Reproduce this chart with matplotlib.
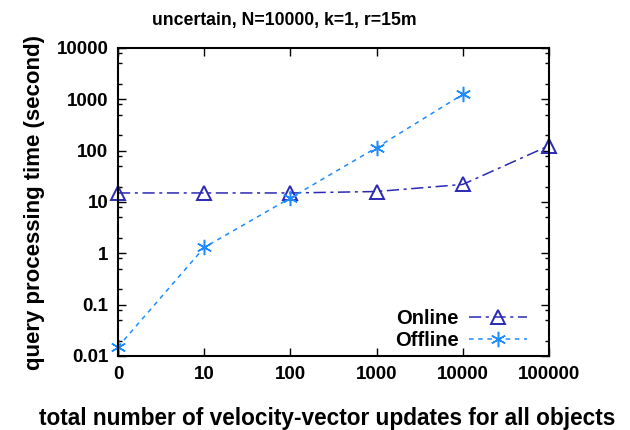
import matplotlib
matplotlib.use("Agg")
import matplotlib.pyplot as plt
from matplotlib.ticker import LogLocator, NullFormatter, FixedLocator

plt.rcParams['font.family'] = ['Liberation Sans', 'DejaVu Sans']
plt.rcParams['font.weight'] = 'bold'

x_labels = ["0", "10", "100", "1000", "10000", "100000"]
online = [15, 15, 15, 16, 22, 125]
offline = [0.015, 1.3, 12, 115, 1250]

fig = plt.figure(figsize=(6.3, 4.3), dpi=100)
ax = fig.add_axes([118/630, 1-356/430, (549-118)/630, (356-48)/430])

xi_on = list(range(len(online)))
xi_off = list(range(len(offline)))
ax.plot(xi_on, online, color='#2a2ab4', linestyle=(0, (8, 3, 2, 3)), linewidth=1.1,
        marker='^', markersize=10, markerfacecolor='none', markeredgewidth=1.4,
        label='Online', clip_on=False)
ax.plot(xi_off, offline, color='#1e8cff', linestyle=(0, (3, 3)), linewidth=1.1,
        marker=(6, 2, 0), markersize=11, markeredgewidth=1.1,
        label='Offline', clip_on=False)

ax.set_yscale('log')
ax.set_ylim(0.01, 10000)
ax.set_xlim(0, 5)
ax.set_xticks(range(6))
ax.set_xticklabels(x_labels)
ax.yaxis.set_major_locator(FixedLocator([0.01, 0.1, 1, 10, 100, 1000, 10000]))
ax.set_yticklabels(["0.01", "0.1", "1", "10", "100", "1000", "10000"])
ax.yaxis.set_minor_locator(LogLocator(base=10, subs=[2, 5, 8]))
ax.yaxis.set_minor_formatter(NullFormatter())

ax.tick_params(axis='both', which='major', direction='in', length=6, width=1,
               labelsize=13.5, top=True, right=True, pad=7)
ax.tick_params(axis='y', which='minor', direction='in', length=3, width=1, right=True)
for lab in ax.get_xticklabels() + ax.get_yticklabels():
    lab.set_fontweight('bold')
for s in ax.spines.values():
    s.set_linewidth(1.5)

fig.text(284/630, 1-21/430, "uncertain, N=10000, k=1, r=15m", fontsize=12.7,
         fontweight='bold', ha='center', va='center')
fig.text(327/630, 1-418/430, "total number of velocity-vector updates for all objects",
         fontsize=16.3, fontweight='bold', ha='center', va='center')
ax.set_ylabel("query processing time (second)", fontsize=16, fontweight='bold', labelpad=8)

leg = ax.legend(loc='lower right', frameon=False, markerfirst=False, fontsize=14.5,
                handlelength=2.9, borderaxespad=0, borderpad=0, handletextpad=0.5,
                labelspacing=0.15, bbox_to_anchor=((527-118)/431, 6/308))
for t in leg.get_texts():
    t.set_fontweight('bold')

fig.savefig("out.png", dpi=100)
